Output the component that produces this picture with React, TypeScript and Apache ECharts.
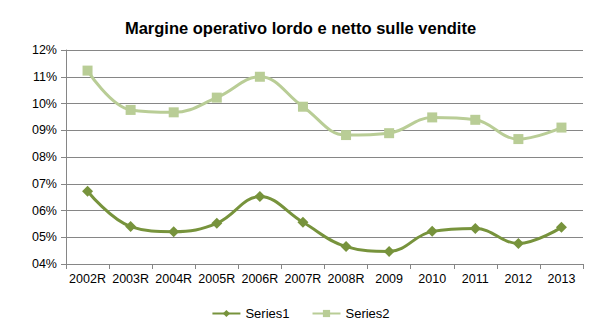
import React, { useEffect, useRef } from "react";
import * as echarts from "echarts";

const categories = ["2002R", "2003R", "2004R", "2005R", "2006R", "2007R", "2008R", "2009", "2010", "2011", "2012", "2013"];
const series1 = [6.72, 5.4, 5.21, 5.52, 6.52, 5.56, 4.65, 4.47, 5.22, 5.33, 4.77, 5.37];
const series2 = [11.23, 9.76, 9.67, 10.22, 11.0, 9.88, 8.82, 8.89, 9.48, 9.39, 8.67, 9.1];
const titleText = "Margine operativo lordo e netto sulle vendite";

export default function App() {
  const ref = useRef<HTMLDivElement>(null);
  useEffect(() => {
    document.body.style.margin = "0";
    const chart = echarts.init(ref.current!, undefined, { renderer: "svg" });
    chart.setOption({
      animation: false,
      backgroundColor: "#ffffff",
      title: {
        text: titleText,
        left: "center",
        top: 14,
        textStyle: { fontFamily: "Liberation Sans, Arial, sans-serif", fontWeight: "bold", fontSize: 16.5, color: "#000" },
      },
      grid: { left: 66, right: 18, top: 50, bottom: 71 },
      legend: {
        bottom: 10,
        left: "center",
        itemWidth: 28,
        itemHeight: 9,
        itemGap: 22,
        textStyle: { fontFamily: "Liberation Sans, Arial, sans-serif", fontSize: 13, color: "#000" },
        data: ["Series1", "Series2"],
      },
      xAxis: {
        type: "category",
        data: categories,
        boundaryGap: true,
        axisLine: { lineStyle: { color: "#868686", width: 1 } },
        axisTick: { show: true, alignWithLabel: false, length: 5, lineStyle: { color: "#868686" } },
        axisLabel: { fontFamily: "Liberation Sans, Arial, sans-serif", fontSize: 12.5, color: "#000", margin: 8, interval: 0 },
      },
      yAxis: {
        type: "value",
        min: 4,
        max: 12,
        interval: 1,
        axisLine: { show: true, lineStyle: { color: "#868686" } },
        axisTick: { show: true, length: 5, lineStyle: { color: "#868686" } },
        splitLine: { lineStyle: { color: "#868686", width: 1 } },
        axisLabel: {
          fontFamily: "Liberation Sans, Arial, sans-serif",
          fontSize: 12.5,
          color: "#000",
          margin: 9,
          formatter: (v: number) => (v < 10 ? "0" : "") + v + "%",
        },
      },
      series: [
        {
          name: "Series1",
          type: "line",
          data: series1,
          smooth: 0.4,
          symbol: "diamond",
          symbolSize: 11,
          lineStyle: { color: "#77933C", width: 3 },
          itemStyle: { color: "#77933C" },
        },
        {
          name: "Series2",
          type: "line",
          data: series2,
          smooth: 0.4,
          symbol: "rect",
          symbolSize: 10,
          lineStyle: { color: "#B9CD96", width: 3 },
          itemStyle: { color: "#B9CD96" },
        },
      ],
    });
    return () => chart.dispose();
  }, []);
  return <div ref={ref} style={{ width: 601, height: 335, position: "absolute", left: 0, top: 0 }} />;
}
